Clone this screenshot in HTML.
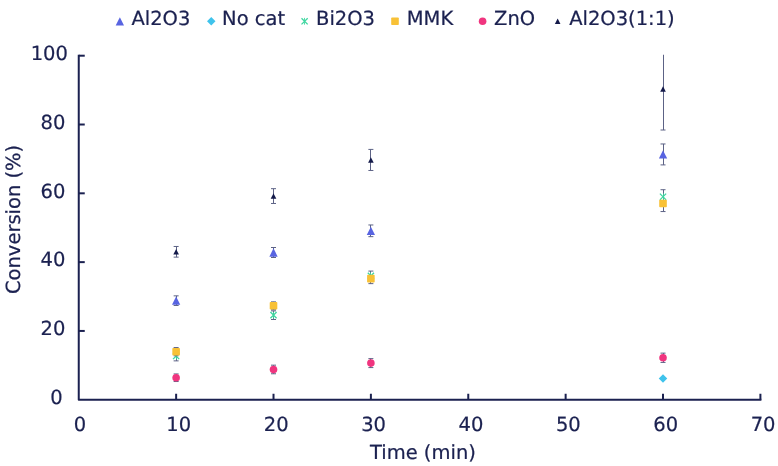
<!DOCTYPE html>
<html lang="en"><head><meta charset="utf-8"><title>Conversion vs Time</title>
<style>
html,body{margin:0;padding:0;background:#fff;}
svg{display:block;will-change:transform;}
text{font-family:"DejaVu Sans", "Liberation Sans", sans-serif;fill:#1b2150;text-rendering:geometricPrecision;stroke:#1b2150;stroke-width:0.22px;}
</style></head><body>
<svg width="778" height="466" viewBox="0 0 778 466">
<rect width="778" height="466" fill="#ffffff"/>
<defs><clipPath id="plot"><rect x="78.75" y="54.70" width="691.65" height="345.05"/></clipPath></defs>

<g clip-path="url(#plot)">
<g>
<path d="M176.50,295.85L176.50,305.48M173.63,295.85L178.63,295.85M173.63,305.48L178.63,305.48" stroke="#5c6285" stroke-width="1" fill="none"/>
<path d="M273.50,247.51L273.50,257.49M271.01,247.51L276.01,247.51M271.01,257.49L276.01,257.49" stroke="#5c6285" stroke-width="1" fill="none"/>
<path d="M370.50,224.97L370.50,236.67M368.39,224.97L373.39,224.97M368.39,236.67L373.39,236.67" stroke="#5c6285" stroke-width="1" fill="none"/>
<path d="M663.50,143.98L663.50,164.90M660.52,143.98L665.52,143.98M660.52,164.90L665.52,164.90" stroke="#5c6285" stroke-width="1" fill="none"/>
<path d="M176.13,296.51L180.28,304.81L171.98,304.81Z" fill="#5864e1"/>
<path d="M273.51,248.35L277.66,256.65L269.36,256.65Z" fill="#5864e1"/>
<path d="M370.89,226.67L375.04,234.97L366.74,234.97Z" fill="#5864e1"/>
<path d="M663.02,150.29L667.17,158.59L658.87,158.59Z" fill="#5864e1"/>
</g>
<g>
<path d="M663.02,374.34L667.27,378.59L663.02,382.84L658.77,378.59Z" fill="#3fc3ec"/>
</g>
<g>
<path d="M176.50,351.24L176.50,360.87M173.63,351.24L178.63,351.24M173.63,360.87L178.63,360.87" stroke="#5c6285" stroke-width="1" fill="none"/>
<path d="M273.50,310.88L273.50,319.48M271.01,310.88L276.01,310.88M271.01,319.48L276.01,319.48" stroke="#5c6285" stroke-width="1" fill="none"/>
<path d="M370.50,271.08L370.50,280.71M368.39,271.08L373.39,271.08M368.39,280.71L373.39,280.71" stroke="#5c6285" stroke-width="1" fill="none"/>
<path d="M663.50,189.71L663.50,203.81M660.52,189.71L665.52,189.71M660.52,203.81L665.52,203.81" stroke="#5c6285" stroke-width="1" fill="none"/>
<path d="M176.50,352.66L176.50,359.46" stroke="#3ed6a0" stroke-width="1" opacity="0.85" fill="none"/><path d="M173.03,352.96L179.23,359.16M173.03,359.16L179.23,352.96" stroke="#3ed6a0" stroke-width="1.3" fill="none"/>
<path d="M273.50,311.78L273.50,318.58" stroke="#3ed6a0" stroke-width="1" opacity="0.85" fill="none"/><path d="M270.41,312.08L276.61,318.28M270.41,318.28L276.61,312.08" stroke="#3ed6a0" stroke-width="1.3" fill="none"/>
<path d="M370.50,272.49L370.50,279.29" stroke="#3ed6a0" stroke-width="1" opacity="0.85" fill="none"/><path d="M367.79,272.79L373.99,278.99M367.79,278.99L373.99,272.79" stroke="#3ed6a0" stroke-width="1.3" fill="none"/>
<path d="M663.50,193.36L663.50,200.16" stroke="#3ed6a0" stroke-width="1" opacity="0.85" fill="none"/><path d="M659.92,193.66L666.12,199.86M659.92,199.86L666.12,193.66" stroke="#3ed6a0" stroke-width="1.3" fill="none"/>
</g>
<g>
<path d="M176.50,347.56L176.50,355.81M173.63,347.56L178.63,347.56M173.63,355.81L178.63,355.81" stroke="#5c6285" stroke-width="1" fill="none"/>
<path d="M273.50,301.87L273.50,309.78M271.01,301.87L276.01,301.87M271.01,309.78L276.01,309.78" stroke="#5c6285" stroke-width="1" fill="none"/>
<path d="M370.50,276.58L370.50,283.63M368.39,276.58L373.39,276.58M368.39,283.63L373.39,283.63" stroke="#5c6285" stroke-width="1" fill="none"/>
<path d="M663.50,201.41L663.50,211.55M660.52,201.41L665.52,201.41M660.52,211.55L665.52,211.55" stroke="#5c6285" stroke-width="1" fill="none"/>
<rect x="172.33" y="347.89" width="7.60" height="7.60" rx="0.8" fill="#f8c136"/>
<rect x="269.71" y="302.02" width="7.60" height="7.60" rx="0.8" fill="#f8c136"/>
<rect x="367.09" y="274.84" width="7.60" height="7.60" rx="0.8" fill="#f8c136"/>
<rect x="659.22" y="199.67" width="7.60" height="7.60" rx="0.8" fill="#f8c136"/>
</g>
<g>
<path d="M176.50,373.95L176.50,381.52M173.63,373.95L178.63,373.95M173.63,381.52L178.63,381.52" stroke="#5c6285" stroke-width="1" fill="none"/>
<path d="M273.50,365.17L273.50,373.77M271.01,365.17L276.01,365.17M271.01,373.77L276.01,373.77" stroke="#5c6285" stroke-width="1" fill="none"/>
<path d="M370.50,358.64L370.50,367.58M368.39,358.64L373.39,358.64M368.39,367.58L373.39,367.58" stroke="#5c6285" stroke-width="1" fill="none"/>
<path d="M663.50,353.13L663.50,362.42M660.52,353.13L665.52,353.13M660.52,362.42L665.52,362.42" stroke="#5c6285" stroke-width="1" fill="none"/>
<circle cx="176.13" cy="377.73" r="3.80" fill="#f0357f"/>
<circle cx="273.51" cy="369.47" r="3.80" fill="#f0357f"/>
<circle cx="370.89" cy="363.11" r="3.80" fill="#f0357f"/>
<circle cx="663.02" cy="357.78" r="3.80" fill="#f0357f"/>
</g>
<g>
<path d="M176.50,246.48L176.50,257.14M173.63,246.48L178.63,246.48M173.63,257.14L178.63,257.14" stroke="#5c6285" stroke-width="1" fill="none"/>
<path d="M273.50,188.68L273.50,203.47M271.01,188.68L276.01,188.68M271.01,203.47L276.01,203.47" stroke="#5c6285" stroke-width="1" fill="none"/>
<path d="M370.50,149.42L370.50,170.48M368.39,149.42L373.39,149.42M368.39,170.48L373.39,170.48" stroke="#5c6285" stroke-width="1" fill="none"/>
<path d="M663.50,48.13L663.50,130.01M660.52,48.13L665.52,48.13M660.52,130.01L665.52,130.01" stroke="#5c6285" stroke-width="1" fill="none"/>
<path d="M176.13,249.01L178.93,254.61L173.33,254.61Z" fill="#141a4a"/>
<path d="M273.51,193.27L276.31,198.87L270.71,198.87Z" fill="#141a4a"/>
<path d="M370.89,157.15L373.69,162.75L368.09,162.75Z" fill="#141a4a"/>
<path d="M663.02,86.27L665.82,91.87L660.22,91.87Z" fill="#141a4a"/>
</g>
</g>
<g stroke="#1b2150" stroke-width="2" fill="none">
<path d="M78.75,54.70L78.75,399.75L761.40,399.75" stroke-linejoin="round"/>
<path d="M176.13,399.75L176.13,393.75"/>
<path d="M273.51,399.75L273.51,393.75"/>
<path d="M370.89,399.75L370.89,393.75"/>
<path d="M468.26,399.75L468.26,393.75"/>
<path d="M565.64,399.75L565.64,393.75"/>
<path d="M663.02,399.75L663.02,393.75"/>
<path d="M760.40,399.75L760.40,393.75"/>
<path d="M78.75,330.94L84.75,330.94"/>
<path d="M78.75,262.13L84.75,262.13"/>
<path d="M78.75,193.32L84.75,193.32"/>
<path d="M78.75,124.51L84.75,124.51"/>
<path d="M78.75,55.70L84.75,55.70"/>
</g>
<text x="80.08" y="430.6" font-size="19.5" text-anchor="middle">0</text>
<text x="178.78" y="430.6" font-size="19.5" text-anchor="middle">10</text>
<text x="276.16" y="430.6" font-size="19.5" text-anchor="middle">20</text>
<text x="373.54" y="430.6" font-size="19.5" text-anchor="middle">30</text>
<text x="470.91" y="430.6" font-size="19.5" text-anchor="middle">40</text>
<text x="568.29" y="430.6" font-size="19.5" text-anchor="middle">50</text>
<text x="665.67" y="430.6" font-size="19.5" text-anchor="middle">60</text>
<text x="763.05" y="430.6" font-size="19.5" text-anchor="middle">70</text>
<text x="62.7" y="403.95" font-size="19.5" text-anchor="end">0</text>
<text x="65.3" y="335.14" font-size="19.5" text-anchor="end">20</text>
<text x="65.3" y="266.33" font-size="19.5" text-anchor="end">40</text>
<text x="65.3" y="197.52" font-size="19.5" text-anchor="end">60</text>
<text x="65.3" y="128.71" font-size="19.5" text-anchor="end">80</text>
<text x="67.9" y="59.90" font-size="19.5" text-anchor="end">100</text>
<text x="422.9" y="458.8" font-size="19.5" text-anchor="middle">Time (min)</text>
<text transform="translate(20.3,219.4) rotate(-90)" font-size="19.5" text-anchor="middle">Conversion (%)</text>
<path d="M119.85,17.15L124.00,25.45L115.70,25.45Z" fill="#5864e1"/>
<text x="131.4" y="25.3" font-size="19.5">Al2O3</text>
<path d="M211.25,17.05L215.50,21.30L211.25,25.55L207.00,21.30Z" fill="#3fc3ec"/>
<text x="222.1" y="25.3" font-size="19.5">No cat</text>
<path d="M304.50,17.90L304.50,24.70" stroke="#3ed6a0" stroke-width="1" opacity="0.85" fill="none"/><path d="M301.50,18.20L307.70,24.40M301.50,24.40L307.70,18.20" stroke="#3ed6a0" stroke-width="1.3" fill="none"/>
<text x="316.0" y="25.3" font-size="19.5">Bi2O3</text>
<rect x="391.20" y="17.50" width="7.60" height="7.60" rx="0.8" fill="#f8c136"/>
<text x="406.8" y="25.3" font-size="19.5">MMK</text>
<circle cx="482.60" cy="21.30" r="3.80" fill="#f0357f"/>
<text x="494.1" y="25.3" font-size="19.5">ZnO</text>
<path d="M557.65,18.50L560.45,24.10L554.85,24.10Z" fill="#141a4a"/>
<text x="569.2" y="25.3" font-size="19.5">Al2O3(1:1)</text>
</svg></body></html>
